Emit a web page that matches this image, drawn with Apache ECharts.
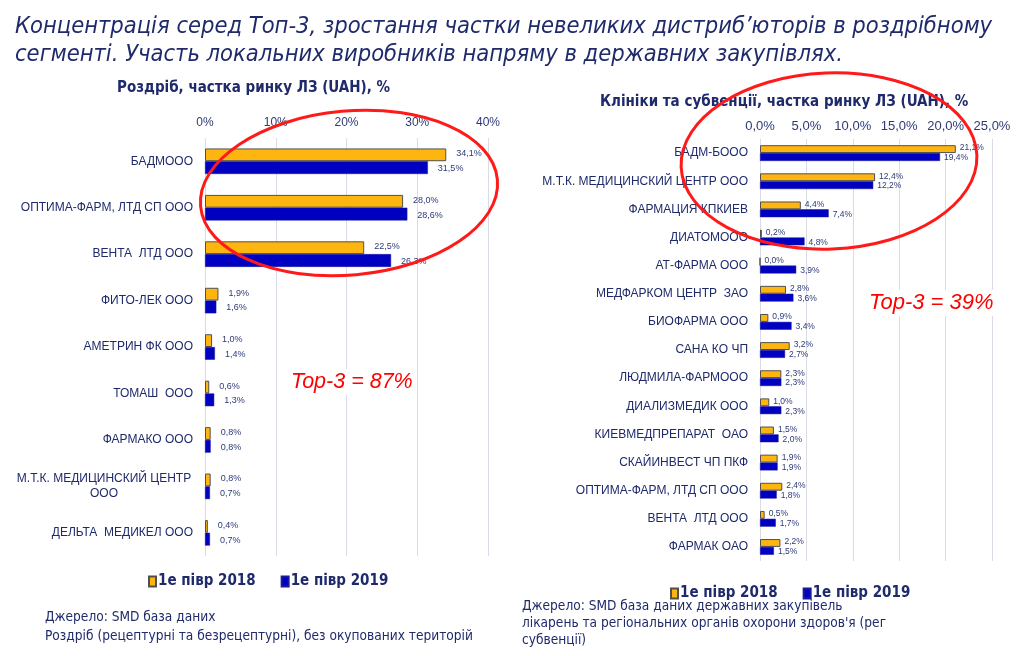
<!DOCTYPE html>
<html>
<head>
<meta charset="utf-8">
<script src="https://cdn.jsdelivr.net/npm/echarts@6/dist/echarts.min.js"></script>
<style>
html,body{margin:0;padding:0;background:#fff;}
#chart{width:1028px;height:656px;}
</style>
</head>
<body>
<div id="chart"></div>
<script>
// ---- Data ----
const seriesNames = ['1е півр 2018', '1е півр 2019'];

const retailCategories = ['БАДМООО', 'ОПТИМА-ФАРМ, ЛТД СП ООО', 'ВЕНТА  ЛТД ООО', 'ФИТО-ЛЕК ООО', 'АМЕТРИН ФК ООО', 'ТОМАШ  ООО', 'ФАРМАКО ООО', 'М.Т.К. МЕДИЦИНСКИЙ ЦЕНТР\nООО', 'ДЕЛЬТА  МЕДИКЕЛ ООО'];
const retail2018 = [34.1, 28.0, 22.5, 1.9, 1.0, 0.6, 0.8, 0.8, 0.4];
const retail2019 = [31.5, 28.6, 26.3, 1.6, 1.4, 1.3, 0.8, 0.7, 0.7];
const retailTicks = [0, 10, 20, 30, 40];

const clinicCategories = ['БАДМ-БООО', 'М.Т.К. МЕДИЦИНСКИЙ ЦЕНТР ООО', 'ФАРМАЦИЯ КПКИЕВ', 'ДИАТОМООО', 'АТ-ФАРМА ООО', 'МЕДФАРКОМ ЦЕНТР  ЗАО', 'БИОФАРМА ООО', 'САНА КО ЧП', 'ЛЮДМИЛА-ФАРМООО', 'ДИАЛИЗМЕДИК ООО', 'КИЕВМЕДПРЕПАРАТ  ОАО', 'СКАЙИНВЕСТ ЧП ПКФ', 'ОПТИМА-ФАРМ, ЛТД СП ООО', 'ВЕНТА  ЛТД ООО', 'ФАРМАК ОАО'];
const clinic2018 = [21.1, 12.4, 4.4, 0.2, 0.0, 2.8, 0.9, 3.2, 2.3, 1.0, 1.5, 1.9, 2.4, 0.5, 2.2];
const clinic2019 = [19.4, 12.2, 7.4, 4.8, 3.9, 3.6, 3.4, 2.7, 2.3, 2.3, 2.0, 1.9, 1.8, 1.7, 1.5];
const clinicTicks = [0, 5, 10, 15, 20, 25];

const titleText = 'Концентрація серед Топ-3, зростання частки невеликих дистриб’юторів в роздрібному\nсегменті. Участь локальних виробників напряму в державних закупівлях.';
const leftSubtitle = 'Роздріб, частка ринку ЛЗ (UAH), %';
const rightSubtitle = 'Клініки та субвенції, частка ринку ЛЗ (UAH), %';
const leftTop3 = 'Top-3 = 87%';
const rightTop3 = 'Top-3 = 39%';
const leftNote = 'Джерело: SMD база даних\nРоздріб (рецептурні та безрецептурні), без окупованих територій';
const rightNote = 'Джерело: SMD база даних державних закупівель\nлікарень та регіональних органів охорони здоров\'я (рег\nсубвенції)';

// ---- Styles ----
const NAVY = '#1F2A6B';
const ORANGE = '#FFB50F';
const BLUE = '#0000C0';
const GRID = '#D9DCE6';
const NARROW = '"Liberation Sans Narrow", "DejaVu Sans Condensed", "Liberation Sans", sans-serif';
const SANS = '"Liberation Sans", Arial, sans-serif';

const pct1 = v => v.toFixed(1).replace('.', ',') + '%';

function catLabel(v) {
  if (v.indexOf('\n') >= 0) {
    return v.split('\n').map(s => '{c|' + s + '}').join('\n');
  }
  return v;
}

const chart = echarts.init(document.getElementById('chart'), null, {renderer: 'canvas'});

function barSeries(name, data, xi, isOrange, labelSize) {
  return {
    name: name,
    type: 'bar',
    xAxisIndex: xi,
    yAxisIndex: xi,
    data: data,
    barGap: '0%',
    barCategoryGap: xi === 0 ? '45%' : '44%',
    itemStyle: isOrange ? {color: ORANGE, borderColor: '#505050', borderWidth: 1}
                        : {color: BLUE, borderColor: '#1A1A9A', borderWidth: 0.5},
    label: {
      show: true,
      position: 'right',
      distance: xi === 0 ? 10 : 4,
      offset: [0, isOrange ? -1 : 1],
      formatter: p => pct1(p.value),
      fontSize: labelSize,
      fontFamily: SANS,
      color: '#2D3A78'
    },
    emphasis: {disabled: true},
    animation: false
  };
}

const legendText = {color: NAVY, fontWeight: 'bold', fontSize: 15, fontFamily: NARROW, padding: [0, 0, 0, -3]};

const option = {
  backgroundColor: '#ffffff',
  animation: false,
  title: {
    text: titleText,
    left: 10,
    top: 8,
    textStyle: {
      color: NAVY,
      fontStyle: 'italic',
      fontWeight: 'normal',
      fontSize: 23.5,
      lineHeight: 28,
      fontFamily: NARROW
    }
  },
  legend: [
    {
      data: seriesNames, left: 143, top: 569,
      itemWidth: 7, itemHeight: 10, itemGap: 25, icon: 'rect', selectedMode: false,
      textStyle: legendText
    },
    {
      data: seriesNames, left: 665, top: 581,
      itemWidth: 7, itemHeight: 10, itemGap: 25, icon: 'rect', selectedMode: false,
      textStyle: legendText
    }
  ],
  grid: [
    {left: 205, right: 540, top: 138, bottom: 100},
    {left: 760, right: 36, top: 139, bottom: 95}
  ],
  xAxis: [
    {
      type: 'value', gridIndex: 0, position: 'top',
      min: retailTicks[0], max: retailTicks[retailTicks.length - 1], interval: 10,
      axisLine: {show: false}, axisTick: {show: false},
      splitLine: {show: true, lineStyle: {color: GRID, width: 1}},
      axisLabel: {formatter: v => v + '%', color: '#2D3A78', fontSize: 12, fontFamily: SANS, margin: 9}
    },
    {
      type: 'value', gridIndex: 1, position: 'top',
      min: clinicTicks[0], max: clinicTicks[clinicTicks.length - 1], interval: 5,
      axisLine: {show: false}, axisTick: {show: false},
      splitLine: {show: true, lineStyle: {color: GRID, width: 1}},
      axisLabel: {formatter: v => pct1(v), color: '#2D3A78', fontSize: 13, fontFamily: SANS, margin: 6}
    }
  ],
  yAxis: [
    {
      type: 'category', gridIndex: 0, inverse: true, data: retailCategories,
      axisLine: {show: false}, axisTick: {show: false},
      axisLabel: {
        color: NAVY, fontSize: 12, fontFamily: SANS, margin: 12,
        formatter: catLabel,
        rich: {c: {width: 178, align: 'center', color: NAVY, fontSize: 12, fontFamily: SANS, lineHeight: 15}}
      }
    },
    {
      type: 'category', gridIndex: 1, inverse: true, data: clinicCategories,
      axisLine: {show: false}, axisTick: {show: false},
      axisLabel: {color: NAVY, fontSize: 12, fontFamily: SANS, margin: 12}
    }
  ],
  series: [
    barSeries(seriesNames[0], retail2018, 0, true, 9),
    barSeries(seriesNames[1], retail2019, 0, false, 9),
    barSeries(seriesNames[0], clinic2018, 1, true, 8.5),
    barSeries(seriesNames[1], clinic2019, 1, false, 8.5)
  ],
  graphic: [
    {type: 'text', left: 117, top: 81, style: {text: leftSubtitle, fill: NAVY, font: 'bold 15px ' + NARROW}},
    {type: 'text', left: 600, top: 95, style: {text: rightSubtitle, fill: NAVY, font: 'bold 15px ' + NARROW}},
    {type: 'text', left: 288, top: 369, z: 100,
     style: {text: leftTop3, fill: '#FF0000', font: 'italic 21.5px ' + SANS, backgroundColor: '#fff', padding: [2, 3]}},
    {type: 'text', left: 866, top: 290, z: 100,
     style: {text: rightTop3, fill: '#FF0000', font: 'italic 22px ' + SANS, backgroundColor: '#fff', padding: [2, 3]}},
    {type: 'ellipse', z: 110, x: 349, y: 193, rotation: 0.09,
     shape: {cx: 0, cy: 0, rx: 149, ry: 82},
     style: {fill: 'none', stroke: '#FF1A1A', lineWidth: 3}},
    {type: 'ellipse', z: 110, x: 829, y: 161, rotation: 0.04,
     shape: {cx: 0, cy: 0, rx: 148, ry: 88},
     style: {fill: 'none', stroke: '#FF1A1A', lineWidth: 3}},
    {type: 'text', left: 45, top: 608, style: {text: leftNote, fill: NAVY, font: '13.6px ' + NARROW, lineHeight: 19}},
    {type: 'text', left: 522, top: 598, style: {text: rightNote, fill: NAVY, font: '13.6px ' + NARROW, lineHeight: 17}}
  ]
};

chart.setOption(option);
</script>
</body>
</html>
